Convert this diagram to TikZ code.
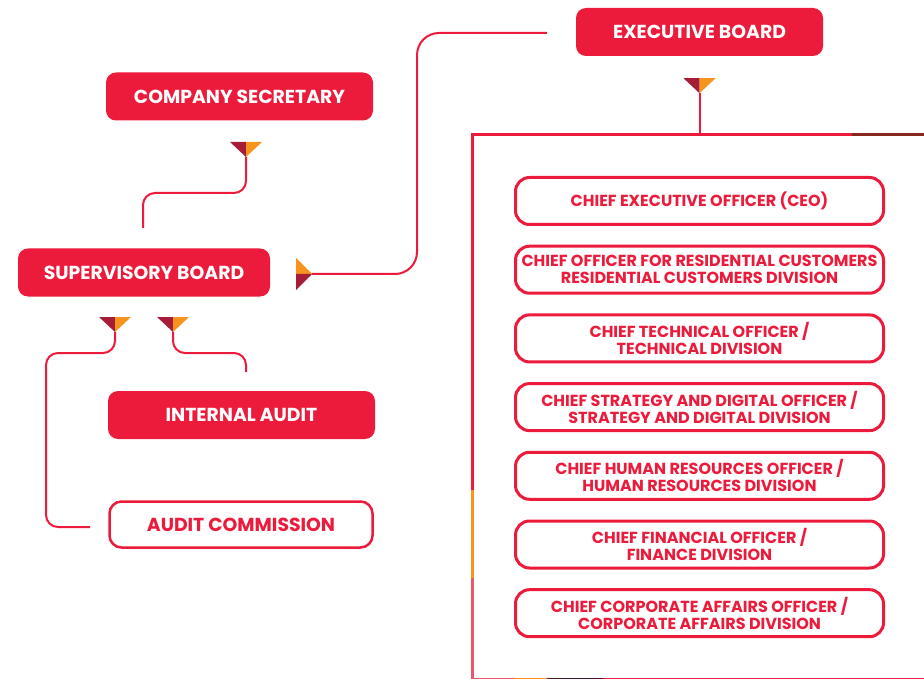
\documentclass[tikz,border=0pt]{standalone}
\usepackage{fontspec}
\setmainfont{Poppins}
\usepackage{tikz}
\usetikzlibrary{positioning,calc}
\usepackage{xcolor}

\definecolor{brandred}{RGB}{237,27,59}
\definecolor{maroon}{RGB}{166,29,55}
\definecolor{amber}{RGB}{247,148,29}
\definecolor{blush}{RGB}{234,88,105}
\definecolor{plum}{RGB}{72,22,42}
\definecolor{rust}{RGB}{135,40,30}

\begin{document}
\begin{tikzpicture}[
    x=1pt, y=-1pt,
    node distance=18.7pt,
    board/.style={
        rectangle, fill=brandred, text=white,
        minimum height=48, inner sep=0pt,
        align=center, rounded corners=10pt,
        font=\fontsize{18.8}{22}\selectfont\bfseries
    },
    outlined/.style={
        rectangle, draw=brandred, fill=white, text=brandred,
        minimum height=46, inner sep=0pt, line width=2.5pt,
        align=center, rounded corners=12pt,
        font=\fontsize{18.8}{22}\selectfont\bfseries
    },
    officer/.style={
        rectangle, draw=brandred, fill=white, text=brandred,
        minimum width=368, minimum height=47, inner sep=0pt,
        align=center, rounded corners=14pt, line width=3pt,
        font=\fontsize{16}{17}\selectfont\bfseries
    },
    link/.style={
        draw=brandred, line width=2pt, rounded corners=12pt
    },
    mark down/.pic={
        \fill[maroon] (-16,-15) -- (0,-15) -- (0,0) -- cycle;
        \fill[amber] (0,-15) -- (16,-15) -- (0,0) -- cycle;
    },
    mark right/.pic={
        \fill[amber] (-16,-16) -- (-16,0) -- (0,0) -- cycle;
        \fill[maroon] (-16,0) -- (-16,16) -- (0,0) -- cycle;
    }
]
\clip (0,0) rectangle (924,679);
\fill[white] (0,0) rectangle (924,679);

% Boards
\node[board, minimum width=247] (exec) at (699.5,32) {EXECUTIVE BOARD};
\node[board, minimum width=267] (secretary) at (239.5,96.5) {COMPANY SECRETARY};
\node[board, minimum width=252] (supervisory) at (144,272.5) {SUPERVISORY BOARD};
\node[board, minimum width=267] (audit) at (241.5,415) {INTERNAL AUDIT};
\node[outlined, minimum width=263] (commission) at (241,524.5) {AUDIT COMMISSION};

% Executive panel frame
\draw[brandred, line width=3pt] (472.5,490) -- (472.5,135) -- (852,135);
\draw[rust, line width=3pt] (852,135) -- (924,135);
\draw[amber, line width=3pt] (472.5,490) -- (472.5,578);
\draw[blush, line width=3pt] (472.5,578) -- (472.5,679) -- (515,679);
\draw[amber, line width=3pt] (515,679) -- (547,679);
\draw[plum, line width=3pt] (547,679) -- (603,679);
\draw[brandred, line width=3pt] (603,679) -- (924,679);
\coordinate (paneltop) at (699.5,135);

% Officers
\node[officer] (ceo) at (699.5,201) {CHIEF EXECUTIVE OFFICER (CEO)};
\node[officer, below=of ceo] (residential) {CHIEF OFFICER FOR RESIDENTIAL CUSTOMERS\\RESIDENTIAL CUSTOMERS DIVISION};
\node[officer, below=of residential] (technical) {CHIEF TECHNICAL OFFICER /\\TECHNICAL DIVISION};
\node[officer, below=of technical] (strategy) {CHIEF STRATEGY AND DIGITAL OFFICER /\\STRATEGY AND DIGITAL DIVISION};
\node[officer, below=of strategy] (hr) {CHIEF HUMAN RESOURCES OFFICER /\\HUMAN RESOURCES DIVISION};
\node[officer, below=of hr] (finance) {CHIEF FINANCIAL OFFICER /\\FINANCE DIVISION};
\node[officer, below=of finance] (corporate) {CHIEF CORPORATE AFFAIRS OFFICER /\\CORPORATE AFFAIRS DIVISION};

% Marker tips and loose ends
\coordinate (execmark) at ($(exec.south)+(0,37)$);
\coordinate (secmark) at (246,157);
\coordinate (supup) at (143,228);
\coordinate (supmark) at (312,274);
\coordinate (execend) at ($(exec.west)+(-29,1)$);
\coordinate (commark) at (115,332);
\coordinate (comend) at (90,527);
\coordinate (auditmark) at (173,332);
\coordinate (auditend) at (246,372);

% Links
\draw[link] (execmark) -- (execmark |- paneltop);
\draw[link] (secmark) -- ++(0,36) -| (supup);
\draw[link, rounded corners=22pt] (supmark) -- ++(105,0) |- (execend);
\draw[link] (commark) -- ++(0,21) -| ++(-69,174) -- (comend);
\draw[link] (auditmark) -- ++(0,21) -| (auditend);

% Markers
\pic at (execmark) {mark down};
\pic at (secmark) {mark down};
\pic at (commark) {mark down};
\pic at (auditmark) {mark down};
\pic at (supmark) {mark right};

\end{tikzpicture}
\end{document}
